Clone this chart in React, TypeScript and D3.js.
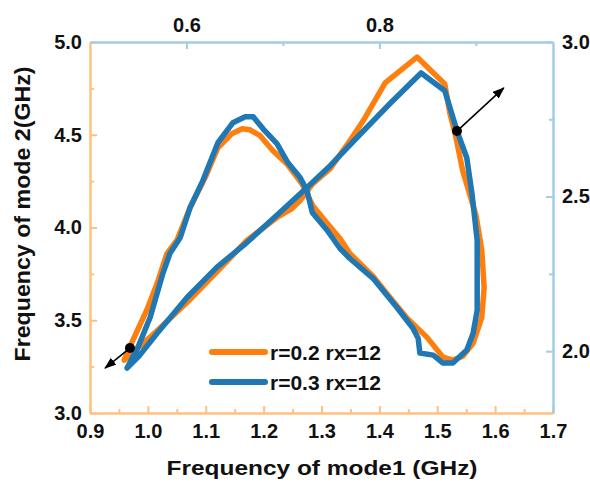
import React, { useEffect, useRef } from "react";
import * as d3 from "d3";

// r=0.2 rx=12 : one closed loop, mode1 vs mode2 (GHz)
const orangeMode1 = [0.959, 0.974, 0.998, 1.016, 1.033, 1.05, 1.073, 1.099, 1.121, 1.145, 1.163, 1.176, 1.194, 1.216, 1.24, 1.266, 1.285, 1.31, 1.332, 1.349, 1.389, 1.418, 1.448, 1.482, 1.51, 1.527, 1.544, 1.562, 1.577, 1.581, 1.577, 1.567, 1.544, 1.531, 1.522, 1.513, 1.465, 1.41, 1.372, 1.349, 1.315, 1.285, 1.263, 1.249, 1.223, 1.171, 1.125, 1.068, 1.004, 0.974];
const orangeMode2 = [3.285, 3.392, 3.554, 3.699, 3.86, 3.93, 4.108, 4.269, 4.43, 4.505, 4.532, 4.527, 4.495, 4.414, 4.344, 4.237, 4.118, 4.022, 3.941, 3.86, 3.737, 3.624, 3.511, 3.409, 3.301, 3.285, 3.306, 3.376, 3.516, 3.677, 3.876, 4.065, 4.306, 4.505, 4.613, 4.774, 4.919, 4.78, 4.575, 4.468, 4.317, 4.237, 4.145, 4.102, 4.054, 3.93, 3.78, 3.597, 3.409, 3.328];

// r=0.3 rx=12
const blueMode1 = [0.964, 0.983, 1.004, 1.026, 1.038, 1.056, 1.073, 1.095, 1.121, 1.147, 1.168, 1.182, 1.199, 1.223, 1.242, 1.263, 1.275, 1.284, 1.31, 1.332, 1.349, 1.389, 1.43, 1.458, 1.467, 1.47, 1.493, 1.51, 1.527, 1.551, 1.562, 1.569, 1.569, 1.569, 1.56, 1.551, 1.534, 1.513, 1.472, 1.418, 1.361, 1.315, 1.275, 1.228, 1.171, 1.119, 1.068, 1.016, 0.983];
const blueMode2 = [3.242, 3.355, 3.516, 3.753, 3.86, 3.946, 4.108, 4.253, 4.457, 4.565, 4.597, 4.597, 4.532, 4.452, 4.349, 4.269, 4.199, 4.081, 3.984, 3.887, 3.833, 3.726, 3.57, 3.457, 3.403, 3.323, 3.312, 3.269, 3.269, 3.339, 3.43, 3.554, 3.769, 3.93, 4.183, 4.376, 4.522, 4.737, 4.833, 4.667, 4.484, 4.333, 4.215, 4.081, 3.919, 3.785, 3.624, 3.43, 3.301];

const seriesNames = ["r=0.2 rx=12", "r=0.3 rx=12"];

const bottomTicks = [0.9, 1.0, 1.1, 1.2, 1.3, 1.4, 1.5, 1.6, 1.7];
const leftTicks = [3.0, 3.5, 4.0, 4.5, 5.0];
const topTicks = [0.6, 0.8];
const topMinor = [0.7, 0.9];
const rightTicks = [2.0, 2.5, 3.0];
const rightMinor = [2.25, 2.75];

// marker dots and arrow tips, [dot, tip]
const arrowMode1 = [[1.534, 1.615], [0.969, 0.926]];
const arrowMode2 = [[4.52, 4.753], [3.35, 3.242]];

const FONT = "'Liberation Sans', Arial, Helvetica, sans-serif";
const ORANGE = "#ff7f0e";
const BLUE = "#1f77b4";
const ORANGE_AXIS = "#ffc080";
const BLUE_AXIS = "#a3cde6";

const ModeLoops = () => {
  const chartRef = useRef<SVGSVGElement>(null);

  useEffect(() => {
    const svg = d3.select(chartRef.current);
    svg.selectAll("*").remove();

    const left = 90, right = 553, top = 42, bottom = 413;

    const x = d3.scaleLinear().domain([0.9, 1.7]).range([left, right]);
    const y = d3.scaleLinear().domain([3, 5]).range([bottom, top]);
    const xTop = d3.scaleLinear().domain([0.5, 0.98]).range([left, right]);
    const yRight = d3.scaleLinear().domain([1.8, 3.0]).range([bottom, top]);

    const styleAxis = (g: any, color: string) => {
      g.select(".domain").attr("stroke", color).attr("stroke-width", 2.5);
      g.selectAll(".tick line").attr("stroke", color).attr("stroke-width", 2);
      g.selectAll(".tick text")
        .attr("fill", "#111")
        .attr("font-size", 20)
        .attr("font-weight", "bold")
        .attr("font-family", FONT);
    };
    const minor = (g: any, color: string) => {
      g.select(".domain").remove();
      g.selectAll(".tick line").attr("stroke", color).attr("stroke-width", 2);
    };
    const fmt = d3.format(".1f");

    // orange axes (bottom, left)
    svg.append("g")
      .attr("transform", `translate(0,${bottom})`)
      .call(d3.axisBottom(x).tickValues(x.ticks(16).filter((d) => !bottomTicks.some((t) => Math.abs(t - d) < 1e-6))).tickFormat(() => "").tickSize(-4))
      .call((g) => minor(g, ORANGE_AXIS));
    svg.append("g")
      .attr("transform", `translate(${left},0)`)
      .call(d3.axisLeft(y).tickValues([3.25, 3.75, 4.25, 4.75]).tickFormat(() => "").tickSize(-4))
      .call((g) => minor(g, ORANGE_AXIS));
    svg.append("g")
      .attr("transform", `translate(0,${bottom})`)
      .call(d3.axisBottom(x).tickValues(bottomTicks).tickFormat(fmt).tickSizeInner(-7).tickSizeOuter(0).tickPadding(11))
      .call((g) => styleAxis(g, ORANGE_AXIS));
    svg.append("g")
      .attr("transform", `translate(${left},0)`)
      .call(d3.axisLeft(y).tickValues(leftTicks).tickFormat(fmt).tickSizeInner(-7).tickSizeOuter(0).tickPadding(8))
      .call((g) => styleAxis(g, ORANGE_AXIS));

    // blue axes (top, right)
    svg.append("g")
      .attr("transform", `translate(0,${top})`)
      .call(d3.axisTop(xTop).tickValues(topMinor).tickFormat(() => "").tickSize(-4))
      .call((g) => minor(g, BLUE_AXIS));
    svg.append("g")
      .attr("transform", `translate(${right},0)`)
      .call(d3.axisRight(yRight).tickValues(rightMinor).tickFormat(() => "").tickSize(-4))
      .call((g) => minor(g, BLUE_AXIS));
    svg.append("g")
      .attr("transform", `translate(0,${top})`)
      .call(d3.axisTop(xTop).tickValues(topTicks).tickFormat(fmt).tickSizeInner(-7).tickSizeOuter(0).tickPadding(10))
      .call((g) => styleAxis(g, BLUE_AXIS));
    svg.append("g")
      .attr("transform", `translate(${right},0)`)
      .call(d3.axisRight(yRight).tickValues(rightTicks).tickFormat(fmt).tickSizeInner(-7).tickSizeOuter(0).tickPadding(9))
      .call((g) => styleAxis(g, BLUE_AXIS));

    // loops
    const series = [
      { m1: orangeMode1, m2: orangeMode2, color: ORANGE },
      { m1: blueMode1, m2: blueMode2, color: BLUE },
    ];
    series.forEach((s) => {
      const line = d3.line<number>()
        .x((i) => x(s.m1[i]))
        .y((i) => y(s.m2[i]))
        .curve(d3.curveLinearClosed);
      svg.append("path")
        .attr("d", line(d3.range(s.m1.length)))
        .attr("fill", "none")
        .attr("stroke", s.color)
        .attr("stroke-width", 5.5)
        .attr("stroke-linejoin", "round");
    });

    // arrows
    svg.append("defs").append("marker")
      .attr("id", "head")
      .attr("markerUnits", "userSpaceOnUse")
      .attr("markerWidth", 13)
      .attr("markerHeight", 10)
      .attr("refX", 11)
      .attr("refY", 4.5)
      .attr("orient", "auto")
      .append("path")
      .attr("d", "M0,0 L12,4.5 L0,9 Z")
      .attr("fill", "#000");
    arrowMode1.forEach((m1, i) => {
      const m2 = arrowMode2[i];
      svg.append("line")
        .attr("x1", x(m1[0])).attr("y1", y(m2[0]))
        .attr("x2", x(m1[1])).attr("y2", y(m2[1]))
        .attr("stroke", "#000")
        .attr("stroke-width", 1.6)
        .attr("marker-end", "url(#head)");
      svg.append("circle")
        .attr("cx", x(m1[0])).attr("cy", y(m2[0]))
        .attr("r", 5)
        .attr("fill", "#000");
    });

    // legend
    const legend = svg.append("g").attr("transform", "translate(212,352)");
    seriesNames.forEach((name, i) => {
      const row = legend.append("g").attr("transform", `translate(0,${i * 30})`);
      row.append("line")
        .attr("x1", 0).attr("x2", 53)
        .attr("stroke", series[i].color)
        .attr("stroke-width", 6)
        .attr("stroke-linecap", "round");
      row.append("text")
        .attr("x", 58)
        .attr("dy", "0.36em")
        .attr("font-size", 21)
        .attr("font-weight", "bold")
        .attr("font-family", FONT)
        .attr("fill", "#111")
        .text(name);
    });

    // axis titles
    svg.append("text")
      .attr("x", 322)
      .attr("y", 475)
      .attr("text-anchor", "middle")
      .attr("font-size", 21)
      .attr("font-weight", "bold")
      .attr("font-family", FONT)
      .attr("textLength", 311)
      .attr("lengthAdjust", "spacingAndGlyphs")
      .attr("fill", "#111")
      .text("Frequency of mode1 (GHz)");
    svg.append("text")
      .attr("transform", "translate(22,214) rotate(-90)")
      .attr("text-anchor", "middle")
      .attr("dy", "0.36em")
      .attr("font-size", 22)
      .attr("font-weight", "bold")
      .attr("font-family", FONT)
      .attr("textLength", 295)
      .attr("lengthAdjust", "spacingAndGlyphs")
      .attr("fill", "#111")
      .text("Frequency of mode 2(GHz)");
  }, []);

  return (
    <svg
      ref={chartRef}
      width={590}
      height={485}
      style={{ position: "absolute", left: 0, top: 0, background: "#fff" }}
    />
  );
};

export default function App() {
  return <ModeLoops />;
}
